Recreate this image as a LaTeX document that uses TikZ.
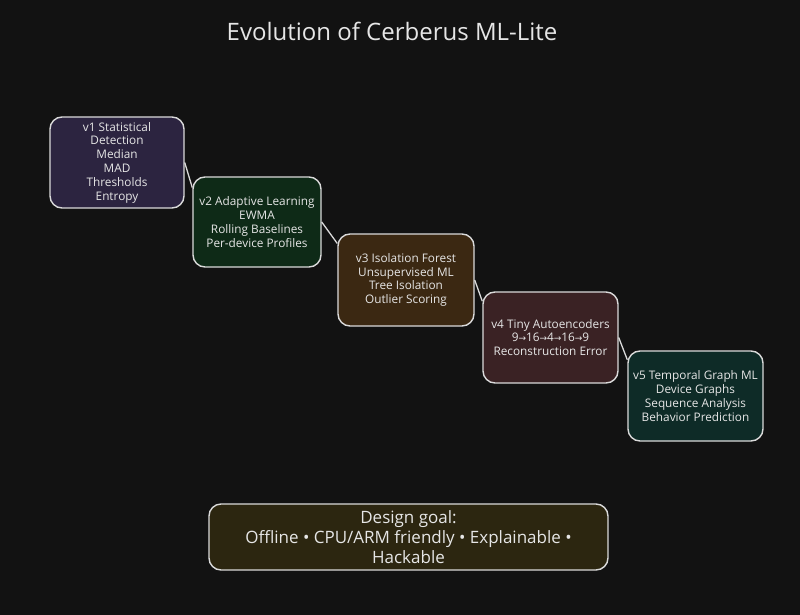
\documentclass[tikz,border=0pt]{standalone}
\usepackage{fontspec}
\setmainfont{Open Sans}
\newfontfamily\dv{DejaVu Sans}
\definecolor{bg}{HTML}{121212}
\definecolor{ink}{HTML}{E6E6E6}
\definecolor{edge}{HTML}{DADADA}
\definecolor{fpurple}{HTML}{2C2440}
\definecolor{fgreen}{HTML}{0E2A17}
\definecolor{fbrown}{HTML}{3B2812}
\definecolor{fmaroon}{HTML}{3A2224}
\definecolor{fteal}{HTML}{0E2B27}
\definecolor{folive}{HTML}{2C2610}
\tikzset{
  stage/.style={draw=edge, line width=1.4pt, rounded corners=12pt, align=center,
    text=ink, inner sep=0pt, font=\fontsize{11.8}{13.8}\selectfont},
  link/.style={draw=edge, line width=1.3pt},
}
\begin{document}
\begin{tikzpicture}[x=1pt,y=-1pt]
\fill[bg] (0,0) rectangle (800,615);
\useasboundingbox (0,0) rectangle (800,615);
\node[text=ink, font=\fontsize{24}{28}\selectfont] (title) at (392,31) {Evolution of Cerberus ML-Lite};
\node[stage, fill=fpurple, minimum width=134pt, minimum height=91pt] (b1) at (117,162.5)
  {v1 Statistical\\Detection\\Median\\MAD\\Thresholds\\Entropy};
\node[stage, fill=fgreen, minimum width=128pt, minimum height=90pt] (b2) at (257,222)
  {v2 Adaptive Learning\\EWMA\\Rolling Baselines\\Per-device Profiles};
\node[stage, fill=fbrown, minimum width=136pt, minimum height=92pt] (b3) at (406,280)
  {v3 Isolation Forest\\Unsupervised ML\\Tree Isolation\\Outlier Scoring};
\node[stage, fill=fmaroon, minimum width=135pt, minimum height=91pt] (b4) at (550.5,337.5)
  {v4 Tiny Autoencoders\\9{\dv\small→}16{\dv\small→}4{\dv\small→}16{\dv\small→}9\\Reconstruction Error};
\node[stage, fill=fteal, minimum width=135pt, minimum height=90pt] (b5) at (695.5,396)
  {v5 Temporal Graph ML\\Device Graphs\\Sequence Analysis\\Behavior Prediction};
\node[stage, fill=folive, minimum width=399pt, minimum height=66pt,
  font=\fontsize{17}{20}\selectfont] (goal) at (408.5,537)
  {Design goal:\\Offline • CPU/ARM friendly • Explainable •\\Hackable};
\draw[link] (b1.east) -- (b2.152);
\draw[link] (b2.east) -- (b3.152);
\draw[link] (b3.east) -- (b4.152);
\draw[link] (b4.east) -- (b5.152);
\end{tikzpicture}
\end{document}
